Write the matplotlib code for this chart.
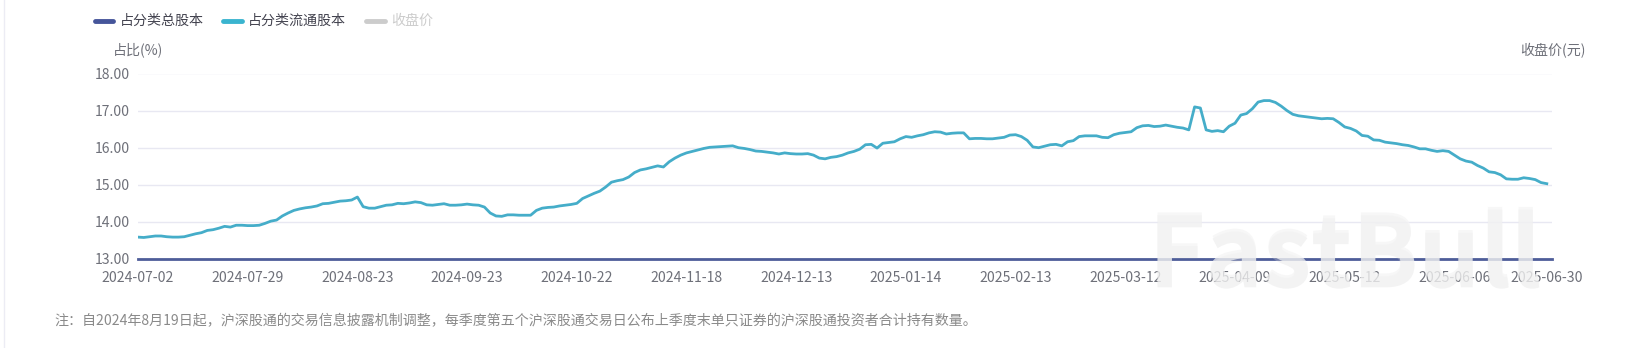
import matplotlib
matplotlib.use("Agg")
import matplotlib.pyplot as plt
from matplotlib.lines import Line2D
import matplotlib.patheffects as pe
import numpy as np

plt.rcParams['font.family'] = ['Noto Sans CJK SC', 'DejaVu Sans']

# ---------------- data ----------------
tick_labels = ["2024-07-02", "2024-07-29", "2024-08-23", "2024-09-23", "2024-10-22",
               "2024-11-18", "2024-12-13", "2025-01-14", "2025-02-13", "2025-03-12",
               "2025-04-09", "2025-05-12", "2025-06-06", "2025-06-30"]
tick_index = [0, 19, 38, 57, 76, 95, 114, 133, 152, 171, 190, 209, 228, 244]

float_share_pct = [
    13.59, 13.58, 13.60, 13.62, 13.62, 13.60, 13.59, 13.59, 13.60, 13.64,
    13.68, 13.71, 13.77, 13.79, 13.83, 13.88, 13.86, 13.91, 13.91, 13.90,
    13.90, 13.91, 13.96, 14.02, 14.05, 14.16, 14.24, 14.31, 14.35, 14.38,
    14.40, 14.43, 14.49, 14.50, 14.53, 14.56, 14.57, 14.59, 14.67, 14.41,
    14.37, 14.37, 14.41, 14.45, 14.46, 14.50, 14.49, 14.51, 14.54, 14.52,
    14.46, 14.45, 14.47, 14.49, 14.45, 14.45, 14.46, 14.48, 14.46, 14.45,
    14.40, 14.24, 14.16, 14.15, 14.19, 14.19, 14.18, 14.18, 14.18, 14.31,
    14.37, 14.39, 14.40, 14.43, 14.45, 14.47, 14.50, 14.63, 14.70, 14.77,
    14.83, 14.94, 15.07, 15.11, 15.14, 15.21, 15.33, 15.40, 15.43, 15.47,
    15.51, 15.48, 15.62, 15.72, 15.80, 15.86, 15.90, 15.94, 15.98, 16.01,
    16.02, 16.03, 16.04, 16.05, 16.00, 15.98, 15.95, 15.91, 15.90, 15.88,
    15.86, 15.83, 15.86, 15.84, 15.83, 15.83, 15.84, 15.80, 15.72, 15.70,
    15.74, 15.76, 15.80, 15.86, 15.90, 15.96, 16.08, 16.09, 15.99, 16.12,
    16.14, 16.16, 16.24, 16.30, 16.28, 16.32, 16.35, 16.40, 16.43, 16.42,
    16.37, 16.39, 16.40, 16.40, 16.24, 16.25, 16.25, 16.24, 16.24, 16.26,
    16.28, 16.34, 16.35, 16.30, 16.20, 16.02, 16.00, 16.04, 16.08, 16.09,
    16.05, 16.16, 16.19, 16.30, 16.32, 16.32, 16.32, 16.28, 16.27, 16.35,
    16.39, 16.41, 16.43, 16.54, 16.59, 16.60, 16.57, 16.58, 16.61, 16.58,
    16.55, 16.53, 16.48, 17.10, 17.07, 16.48, 16.44, 16.46, 16.43, 16.58,
    16.66, 16.88, 16.92, 17.05, 17.23, 17.27, 17.27, 17.22, 17.12, 17.00,
    16.90, 16.86, 16.84, 16.82, 16.80, 16.78, 16.79, 16.78, 16.68, 16.56,
    16.52, 16.45, 16.33, 16.31, 16.21, 16.20, 16.15, 16.13, 16.11, 16.08,
    16.06, 16.02, 15.97, 15.97, 15.93, 15.90, 15.92, 15.90, 15.80, 15.70,
    15.64, 15.61, 15.52, 15.45, 15.35, 15.33, 15.27, 15.16, 15.15, 15.15,
    15.19, 15.17, 15.14, 15.06, 15.03,
]
y_ticks = [13, 14, 15, 16, 17, 18]

legend_names = ["占分类总股本", "占分类流通股本", "收盘价"]
legend_colors = ["#45559a", "#3ab4cf", "#cccccc"]
legend_text_colors = ["#444450", "#444450", "#cccccc"]

note = ("注：自2024年8月19日起，沪深股通的交易信息披露机制调整，每季度第五个沪深股通交易日"
        "公布上季度末单只证券的沪深股通投资者合计持有数量。")

# ---------------- figure ----------------
W, H = 1636, 348
fig = plt.figure(figsize=(W / 100, H / 100), dpi=100)
fig.patch.set_facecolor("white")

def fx(px):
    return px / W

def fy(py):
    return 1 - py / H

left, right, top, bottom = 138, 1552, 73.5, 259
ax = fig.add_axes([fx(left), fy(bottom), fx(right - left), (bottom - top) / H])

x = np.arange(len(float_share_pct))
ax.plot(x, float_share_pct, color="#45adc9", lw=2.0, zorder=3, solid_joinstyle="round")

ax.set_xlim(0, 244.9)
ax.set_ylim(13, 18)
ax.set_yticks(y_ticks)
ax.set_yticklabels([f"{v:.2f}" for v in y_ticks])
ax.set_xticks(tick_index)
ax.set_xticklabels(tick_labels)
ax.tick_params(axis="both", length=0, labelsize=10.1, labelcolor="#6e7079")
ax.tick_params(axis="y", pad=6)
ax.tick_params(axis="x", pad=9)
ax.grid(axis="y", color="#e8e8f2", lw=1)
ax.set_axisbelow(True)
for s in ["top", "right", "left"]:
    ax.spines[s].set_visible(False)
ax.spines["bottom"].set_color("#4e5d99")
ax.spines["bottom"].set_linewidth(2)
ax.spines["bottom"].set_zorder(4)

# axis names
fig.text(fx(113), fy(50), "占比(%)", fontsize=10.1, color="#6e7079", va="center", ha="left")
fig.text(fx(1586), fy(51), "收盘价(元)", fontsize=10.1, color="#6e7079", va="center", ha="right")

# legend
leg_x = [94.5, 223, 366]
for lx, name, c, tc in zip(leg_x, legend_names, legend_colors, legend_text_colors):
    fig.add_artist(Line2D([fx(lx), fx(lx + 19)], [fy(20.5), fy(20.5)], color=c, lw=3.5,
                          solid_capstyle="round", transform=fig.transFigure))
    fig.text(fx(lx + 25), fy(20.5), name, fontsize=10.1, color=tc, va="center", ha="left")

# footnote
fig.text(fx(54), fy(321), note, fontsize=10.1, color="#8a8a8a", va="center", ha="left")

# left border line
fig.add_artist(Line2D([fx(4), fx(4)], [0, 1], color="#ececf4", lw=1, transform=fig.transFigure))

# watermark
fig.text(fx(1345), fy(256), "FastBull", fontsize=70, fontweight="bold", color="#f4f4f4",
         alpha=0.72, ha="center", va="center", zorder=10,
         path_effects=[pe.withSimplePatchShadow(offset=(0, -2), shadow_rgbFace="#d8d8d8", alpha=0.3)])

fig.savefig("out.png", dpi=100)
